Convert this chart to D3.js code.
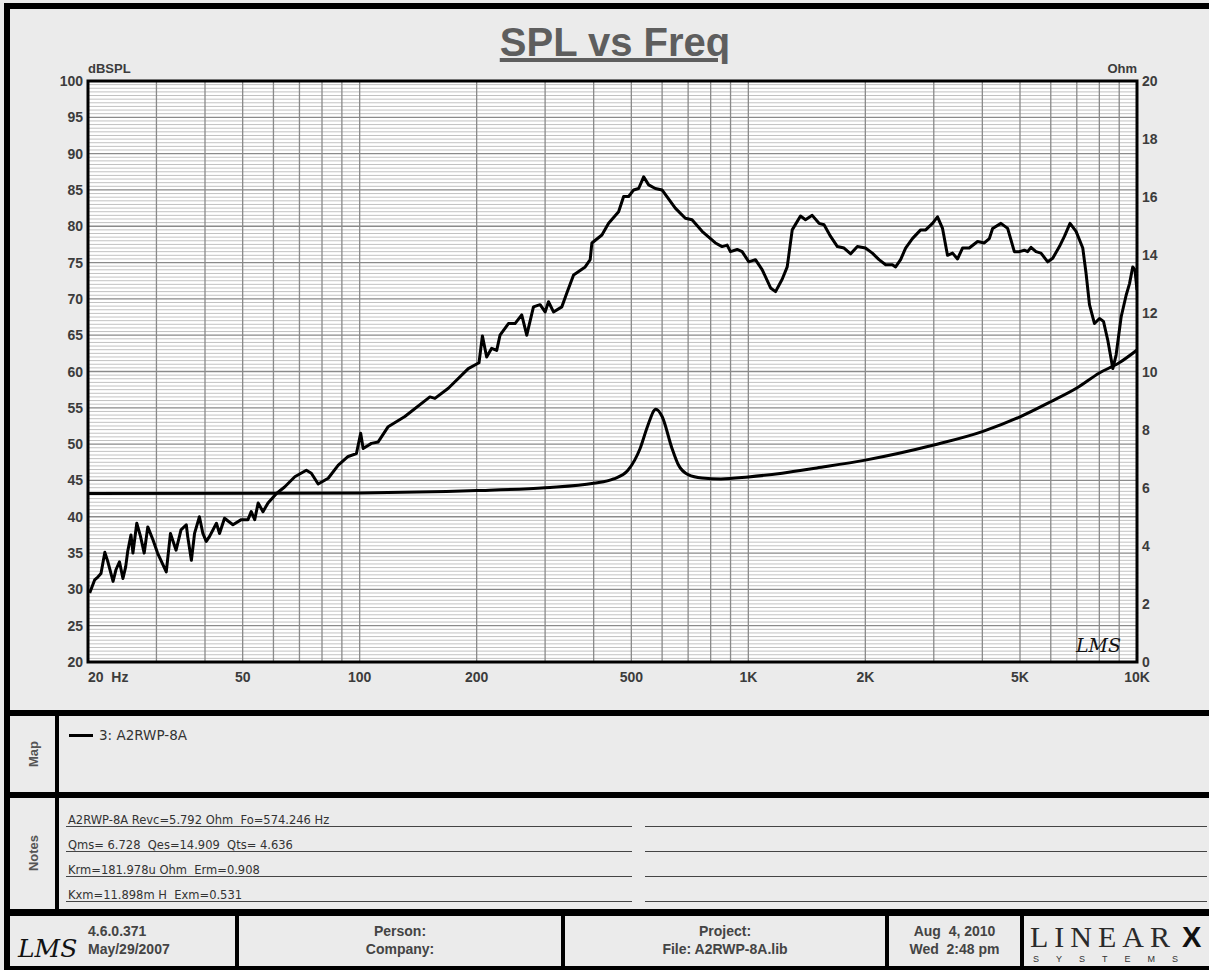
<!DOCTYPE html>
<html>
<head>
<meta charset="utf-8">
<script src="https://cdn.jsdelivr.net/npm/d3@7"></script>
<style>
  body { margin: 0; background: #ebebeb; }
  svg text { font-family: "Liberation Sans", Arial, sans-serif; }
</style>
</head>
<body>
<div id="main-frame"></div>
<script>
// SPL curve (Hz, dBSPL)
var splFreq = [20.2, 20.8, 21.2, 21.6, 22.1, 22.5, 23.2, 23.6, 24.1, 24.6, 25.0, 25.3, 25.8, 26.1, 26.7,
  27.3, 27.9, 28.5, 29.4, 30.2, 31.8, 32.6, 33.7, 34.7, 35.8, 36.1, 36.9, 37.6, 38.7, 39.5, 40.3, 41.1,
  42.8, 43.6, 44.9, 47.2, 49.6, 51.6, 52.6, 53.7, 54.8, 56.4, 58.1, 61.1, 64.1, 68.1, 72.9, 75.1, 78.2,
  83.0, 88.1, 93.4, 98.1, 100.6, 102.1, 107.2, 111.6, 118.4, 130.7, 151.6, 156.2, 169.1, 190.3, 202.8,
  206.9, 212.2, 218.6, 225.2, 229.7, 241.4, 251.0, 261.2, 269.1, 280.0, 291.2, 300.0, 306.1, 315.3,
  331.2, 341.2, 355.1, 380.4, 391.8, 395.8, 420, 437, 463.7, 477.7, 492.1, 506.9, 522.2, 537.9, 554.1,
  576.3, 599.7, 648.7, 688.5, 716.3, 760.3, 822.8, 856.1, 882, 899.4, 935.9, 963.9, 1003, 1043, 1086,
  1141, 1175, 1222, 1259, 1297, 1362, 1403, 1460, 1520, 1566, 1628, 1695, 1763, 1834, 1908, 2001, 2085,
  2169, 2256, 2347, 2393, 2465, 2539, 2643, 2776, 2860, 2977, 3067, 3160, 3254, 3353, 3454, 3557, 3702,
  3889, 4047, 4169, 4251, 4466, 4647, 4835, 4981, 5131, 5232, 5336, 5496, 5662, 5892, 6070, 6315, 6505,
  6725, 6969, 7252, 7396, 7546, 7773, 8007, 8199, 8411, 8665, 8837, 9103, 9377, 9567, 9750, 9880, 10000];
var splDb = [29.5, 31.3, 31.7, 32.2, 35.1, 33.8, 31.1, 32.7, 33.8, 31.5, 33.1, 35.2, 37.5, 35.0, 39.1,
  37.3, 35.0, 38.6, 36.8, 35.0, 32.4, 37.7, 35.4, 38.2, 38.9, 37.3, 34.0, 37.7, 40.0, 37.7, 36.6, 37.3,
  39.1, 37.7, 39.8, 38.9, 39.6, 39.6, 40.7, 39.6, 41.9, 40.7, 41.9, 43.2, 44.1, 45.5, 46.4, 46.0, 44.5,
  45.3, 47.1, 48.3, 48.7, 51.5, 49.4, 50.1, 50.3, 52.4, 53.8, 56.5, 56.3, 57.7, 60.4, 61.2,
  64.9, 62.0, 63.2, 62.9, 65.0, 66.6, 66.6, 67.8, 65.0, 68.9, 69.2, 68.2, 69.6, 68.2,
  68.9, 70.8, 73.3, 74.4, 75.4, 77.7, 78.8, 80.4, 82.0, 84.1, 84.1, 85.0, 85.2, 86.8, 85.7,
  85.2, 85.0, 82.5, 81.1, 80.9, 79.3, 77.7, 77.2, 77.4, 76.5, 76.8, 76.5, 75.1, 75.4, 74.0,
  71.5, 71.0, 72.7, 74.4, 79.5, 81.4, 80.9, 81.5, 80.4, 80.2, 78.6, 77.2, 77.0, 76.2, 77.2, 77.0, 76.3,
  75.4, 74.7, 74.7, 74.4, 75.4, 77.0, 78.3, 79.5, 79.5, 80.4, 81.3, 79.7, 76.0, 76.3, 75.5, 77.0, 77.0,
  77.9, 77.7, 78.3, 79.7, 80.4, 79.7, 76.5, 76.5, 76.7, 76.5, 77.1, 76.5, 76.3, 75.1, 75.6, 77.2, 78.6,
  80.4, 79.3, 77.0, 73.5, 69.2, 66.6, 67.3, 66.9, 64.3, 60.4, 62.3, 67.5, 70.5, 72.1, 74.4, 74.0, 71.2];

// impedance curve (Hz, Ohm)
var impFreq = [20, 100, 200, 300, 400, 450, 490, 510, 527, 550, 578, 600, 636, 660, 700, 760, 850,
  1000, 1222, 1500, 2000, 3000, 4000, 5000, 6000, 7000, 8000, 9000, 10000];
var impOhm = [5.8, 5.82, 5.9, 6.0, 6.15, 6.3, 6.6, 6.95, 7.36, 8.1, 8.7, 8.45, 7.36, 6.8, 6.45, 6.33, 6.3,
  6.37, 6.5, 6.68, 6.95, 7.47, 7.93, 8.44, 8.96, 9.43, 9.95, 10.3, 10.74];

var splTicks = [20, 25, 30, 35, 40, 45, 50, 55, 60, 65, 70, 75, 80, 85, 90, 95, 100];
var ohmTicks = [0, 2, 4, 6, 8, 10, 12, 14, 16, 18, 20];
var freqTicks = [20, 50, 100, 200, 500, 1000, 2000, 5000, 10000];
var freqLabels = ["20  Hz", "50", "100", "200", "500", "1K", "2K", "5K", "10K"];

var legendLabel = "3: A2RWP-8A";
var notesLines = ["A2RWP-8A Revc=5.792 Ohm  Fo=574.246 Hz", "Qms= 6.728  Qes=14.909  Qts= 4.636",
  "Krm=181.978u Ohm  Erm=0.908", "Kxm=11.898m H  Exm=0.531"];
var footerCells = [
  ["4.6.0.371", "May/29/2007"],
  ["Person:", "Company:"],
  ["Project:", "File: A2RWP-8A.lib"],
  ["Aug  4, 2010", "Wed  2:48 pm"]
];

var W = 1209, H = 970;
var pl = 88, pr = 1137, pt = 81, pb = 662;
var textGray = "#3c3c3c";

var mainSVG = d3.select("#main-frame").append("svg")
  .attr("width", W).attr("height", H);

mainSVG.append("rect").attr("width", W).attr("height", H).attr("fill", "#ebebeb");

var x = d3.scaleLog().domain([20, 10000]).range([pl, pr]);
var ySpl = d3.scaleLinear().domain([20, 100]).range([pb, pt]);
var yOhm = d3.scaleLinear().domain([0, 20]).range([pb, pt]);

// title
mainSVG.append("text")
  .attr("x", 615).attr("y", 56)
  .attr("text-anchor", "middle")
  .style("font-size", "40px").style("font-weight", "bold")
  .style("fill", "#5e5e5e")
  .style("text-decoration", "underline")
  .text("SPL vs Freq");

// plot background + grid
mainSVG.append("rect")
  .attr("x", pl).attr("y", pt).attr("width", pr - pl).attr("height", pb - pt)
  .attr("fill", "#ffffff");

var minor = d3.range(20, 100.01, 0.5);
mainSVG.append("g").selectAll("line").data(minor).enter().append("line")
  .attr("x1", pl).attr("x2", pr)
  .attr("y1", function(d) { return ySpl(d); })
  .attr("y2", function(d) { return ySpl(d); })
  .style("stroke", function(d) { return d % 5 === 0 ? "#8a8a8a" : "#c2c2c2"; })
  .style("stroke-width", function(d) { return d % 5 === 0 ? 1.3 : 1; });

mainSVG.append("g").selectAll("line").data(x.ticks()).enter().append("line")
  .attr("x1", function(d) { return x(d); })
  .attr("x2", function(d) { return x(d); })
  .attr("y1", pt).attr("y2", pb)
  .style("stroke", "#8a8a8a")
  .style("stroke-width", 1.3);

// curves
mainSVG.append("clipPath").attr("id", "plot-clip")
  .append("rect").attr("x", pl).attr("y", pt).attr("width", pr - pl).attr("height", pb - pt);

var impLine = d3.line()
  .x(function(d) { return x(d[0]); })
  .y(function(d) { return yOhm(d[1]); })
  .curve(d3.curveMonotoneX);
var splLine = d3.line()
  .x(function(d) { return x(d[0]); })
  .y(function(d) { return ySpl(d[1]); });

mainSVG.append("path")
  .datum(d3.zip(impFreq, impOhm))
  .attr("clip-path", "url(#plot-clip)")
  .attr("d", impLine)
  .style("fill", "none").style("stroke", "#000").style("stroke-width", 3)
  .style("stroke-linejoin", "round");

mainSVG.append("path")
  .datum(d3.zip(splFreq, splDb))
  .attr("clip-path", "url(#plot-clip)")
  .attr("d", splLine)
  .style("fill", "none").style("stroke", "#000").style("stroke-width", 3)
  .style("stroke-linejoin", "round");

// plot border
mainSVG.append("rect")
  .attr("x", pl).attr("y", pt).attr("width", pr - pl).attr("height", pb - pt)
  .style("fill", "none").style("stroke", "#000").style("stroke-width", 3);

// axis labels
mainSVG.append("text").attr("x", pl).attr("y", 73)
  .style("font-size", "13px").style("font-weight", "bold").style("fill", textGray)
  .text("dBSPL");
mainSVG.append("text").attr("x", pr).attr("y", 73).attr("text-anchor", "end")
  .style("font-size", "13px").style("font-weight", "bold").style("fill", textGray)
  .text("Ohm");

mainSVG.append("g").selectAll("text").data(splTicks).enter().append("text")
  .attr("x", 83).attr("y", function(d) { return ySpl(d) + 5; })
  .attr("text-anchor", "end")
  .style("font-size", "14px").style("font-weight", "bold").style("fill", textGray)
  .text(function(d) { return d; });

mainSVG.append("g").selectAll("text").data(ohmTicks).enter().append("text")
  .attr("x", 1142).attr("y", function(d) { return yOhm(d) + 5; })
  .style("font-size", "14px").style("font-weight", "bold").style("fill", textGray)
  .text(function(d) { return d; });

mainSVG.append("g").selectAll("text").data(freqTicks).enter().append("text")
  .attr("x", function(d) { return x(d); })
  .attr("y", 682)
  .attr("text-anchor", function(d, i) { return i === 0 ? "start" : "middle"; })
  .style("font-size", "14px").style("font-weight", "bold").style("fill", textGray)
  .style("white-space", "pre")
  .text(function(d, i) { return freqLabels[i]; });

// LMS mark inside plot
mainSVG.append("text").attr("x", 1076).attr("y", 652)
  .style("font-family", "'DejaVu Serif', serif").style("font-style", "italic")
  .style("font-size", "19px").style("fill", "#111")
  .text("LMS");

// frame and section dividers
function hline(y, w) {
  mainSVG.append("line").attr("x1", 4).attr("x2", W).attr("y1", y).attr("y2", y)
    .style("stroke", "#000").style("stroke-width", w);
}
mainSVG.append("line").attr("x1", 7).attr("x2", 7).attr("y1", 3).attr("y2", H)
  .style("stroke", "#000").style("stroke-width", 6);
hline(6, 6);
hline(713, 6);
hline(795, 6);
mainSVG.append("line").attr("x1", 57).attr("x2", 57).attr("y1", 713).attr("y2", 912)
  .style("stroke", "#000").style("stroke-width", 4);

// map section
mainSVG.append("text")
  .attr("transform", "translate(38,754) rotate(-90)")
  .attr("text-anchor", "middle")
  .style("font-size", "13px").style("font-weight", "bold").style("fill", "#555")
  .text("Map");
mainSVG.append("line").attr("x1", 69).attr("x2", 93).attr("y1", 735.5).attr("y2", 735.5)
  .style("stroke", "#000").style("stroke-width", 3);
mainSVG.append("text").attr("x", 99).attr("y", 740)
  .style("font-family", "'DejaVu Sans', sans-serif")
  .style("font-size", "13.5px").style("fill", "#333")
  .text(legendLabel);

// notes section
mainSVG.append("text")
  .attr("transform", "translate(38,853) rotate(-90)")
  .attr("text-anchor", "middle")
  .style("font-size", "13px").style("font-weight", "bold").style("fill", "#555")
  .text("Notes");

var noteG = mainSVG.append("g").selectAll("g").data(notesLines).enter().append("g");
noteG.append("text")
  .attr("x", 68).attr("y", function(d, i) { return 824 + i * 25; })
  .style("font-family", "'DejaVu Sans', sans-serif")
  .style("font-size", "11.5px").style("fill", "#333")
  .style("white-space", "pre")
  .text(function(d) { return d; });
noteG.append("line")
  .attr("x1", 66).attr("x2", 632)
  .attr("y1", function(d, i) { return 826.5 + i * 25; })
  .attr("y2", function(d, i) { return 826.5 + i * 25; })
  .style("stroke", "#444").style("stroke-width", 1.2);
noteG.append("line")
  .attr("x1", 645).attr("x2", 1207)
  .attr("y1", function(d, i) { return 826.5 + i * 25; })
  .attr("y2", function(d, i) { return 826.5 + i * 25; })
  .style("stroke", "#444").style("stroke-width", 1.2);

// footer
mainSVG.append("rect").attr("x", 4).attr("y", 909).attr("width", W - 4).attr("height", H - 909)
  .attr("fill", "#000");
var cellX = [[10, 235], [239, 561], [565, 885], [889, 1020], [1024, 1209]];
mainSVG.append("g").selectAll("rect").data(cellX).enter().append("rect")
  .attr("x", function(d) { return d[0]; })
  .attr("y", 916)
  .attr("width", function(d) { return d[1] - d[0]; })
  .attr("height", 50)
  .attr("fill", "#ebebeb");

var footText = mainSVG.append("g").selectAll("g").data(footerCells).enter().append("g");
[0, 1].forEach(function(row) {
  footText.append("text")
    .attr("x", function(d, i) { return i === 0 ? 88 : (cellX[i][0] + cellX[i][1]) / 2; })
    .attr("y", 936 + row * 18)
    .attr("text-anchor", function(d, i) { return i === 0 ? "start" : "middle"; })
    .style("font-size", "14px").style("font-weight", "bold").style("fill", "#444")
    .style("white-space", "pre")
    .text(function(d) { return d[row]; });
});

mainSVG.append("text").attr("x", 18).attr("y", 957)
  .style("font-family", "'DejaVu Serif', serif").style("font-style", "italic")
  .style("font-size", "25px").style("fill", "#111")
  .text("LMS");

mainSVG.append("text").attr("x", 1030).attr("y", 947)
  .style("font-family", "'Liberation Serif', serif")
  .style("font-size", "30px").style("fill", "#2a2a2a")
  .style("letter-spacing", "6px")
  .text("LINEAR");
mainSVG.append("text").attr("x", 1182).attr("y", 947)
  .style("font-size", "29px").style("font-weight", "bold").style("fill", "#111")
  .text("X");
mainSVG.append("text").attr("x", 1033).attr("y", 962)
  .style("font-size", "9px").style("fill", "#333")
  .style("letter-spacing", "17px")
  .text("SYSTEMS");
</script>
</body>
</html>
